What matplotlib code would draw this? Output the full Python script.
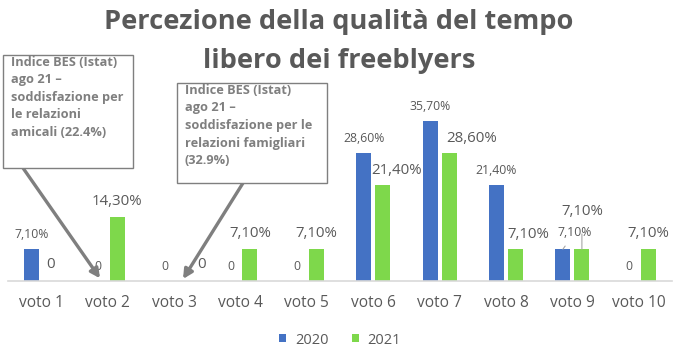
import matplotlib
matplotlib.use("Agg")
import matplotlib.pyplot as plt
from matplotlib.patches import Rectangle
import numpy as np

# ---------- Data ----------
categories = ["voto 1", "voto 2", "voto 3", "voto 4", "voto 5",
              "voto 6", "voto 7", "voto 8", "voto 9", "voto 10"]
vals_2020 = [7.1, 0, 0, 0, 0, 28.6, 35.7, 21.4, 7.1, 0]
vals_2021 = [0, 14.3, 0, 7.1, 7.1, 21.4, 28.6, 7.1, 7.1, 7.1]
series_names = ["2020", "2021"]

note_left = "Indice BES (Istat)\nago 21 \u2013\nsoddisfazione per\nle relazioni\namicali (22.4%)"
note_right = "Indice BES (Istat)\nago 21 \u2013\nsoddisfazione per le\nrelazioni famigliari\n(32.9%)"

# ---------- Style ----------
BLUE = "#4472C4"
GREEN = "#7ED84B"
GREY_TXT = "#595959"
GREY_NOTE = "#7F7F7F"
W, H = 680, 354

plt.rcParams["font.family"] = ["Open Sans", "DejaVu Sans"]


def fx(px):
    return px / W


def fy(py):
    return 1 - py / H


def fmt_label(v):
    if v == 0:
        return "0"
    return f"{v:.2f}%".replace(".", ",")


# label tweaks (pixel offsets: dx, dy above bar top), like Excel's dragged labels
off_2020 = {8: (12, 17)}
off_2021 = {2: (18, 16), 5: (14, 15), 6: (23, 15), 7: (13, 15), 8: (0, 38)}
leader_2020 = {8}
leader_2021 = {8}

fig = plt.figure(figsize=(W / 100, H / 100), dpi=100)
ax = fig.add_axes([fx(8), 73 / H, 664 / W, 179 / H])

x = np.arange(len(categories))
bw = 0.226
shift = 0.143
b1 = ax.bar(x - shift, vals_2020, bw, color=BLUE, label=series_names[0], zorder=2)
b2 = ax.bar(x + shift, vals_2021, bw, color=GREEN, label=series_names[1], zorder=2)

ax.set_xlim(-0.5, len(categories) - 0.5)
ax.set_ylim(0, 40)
ax.set_yticks([])
for s in ["top", "right", "left"]:
    ax.spines[s].set_visible(False)
ax.spines["bottom"].set_color("#D9D9D9")
ax.spines["bottom"].set_linewidth(1.2)
ax.set_xticks(x)
ax.set_xticklabels(categories, fontsize=11.2, color=GREY_TXT)
ax.tick_params(axis="x", length=0, pad=10)

# --- data labels ---
for i, (v, bar) in enumerate(zip(vals_2020, b1)):
    dx, dy = off_2020.get(i, (0, 15))
    cx = bar.get_x() + bar.get_width() / 2
    kw = {}
    if i in leader_2020:
        kw["arrowprops"] = dict(arrowstyle="-", color="#A6A6A6", lw=0.8,
                                shrinkA=4, shrinkB=0)
    ax.annotate(fmt_label(v), xy=(cx, v), xytext=(dx, dy), textcoords="offset pixels",
                ha="center", va="center", fontsize=8.8, color=GREY_TXT, **kw)

for i, (v, bar) in enumerate(zip(vals_2021, b2)):
    dx, dy = off_2021.get(i, (0, 16))
    cx = bar.get_x() + bar.get_width() / 2
    kw = {}
    if i in leader_2021:
        kw["arrowprops"] = dict(arrowstyle="-", color="#A6A6A6", lw=0.8,
                                shrinkA=9, shrinkB=0)
    ax.annotate(fmt_label(v), xy=(cx, v), xytext=(dx, dy), textcoords="offset pixels",
                ha="center", va="center", fontsize=10.8, color=GREY_TXT, **kw)

# --- title ---
fig.text(fx(339), fy(22), "Percezione della qualità del tempo", ha="center", va="center",
         fontsize=19.6, fontweight="bold", color=GREY_TXT)
fig.text(fx(339), fy(61), "libero dei freeblyers", ha="center", va="center",
         fontsize=19.6, fontweight="bold", color=GREY_TXT)

# --- note boxes + arrows ---
for (x0, y0, x1, y1), txt in [((3, 55, 133, 168), note_left),
                              ((177, 83, 327, 183), note_right)]:
    fig.add_artist(Rectangle((fx(x0), fy(y1)), fx(x1 - x0), (y1 - y0) / H,
                             transform=fig.transFigure, facecolor="white",
                             edgecolor=GREY_NOTE, lw=1, zorder=3))
    fig.text(fx(x0 + 8), fy(y0 + 1), txt, ha="left", va="top", fontsize=9.2,
             fontweight="bold", color=GREY_NOTE, linespacing=1.45, zorder=4)

arrow_kw = dict(arrowstyle="-|>,head_length=0.55,head_width=0.28", color=GREY_NOTE,
                lw=2.4, shrinkA=0, shrinkB=0)
ax.annotate("", xy=(0.886, 0.6), xytext=(fx(23), fy(168)), textcoords="figure fraction",
            arrowprops=arrow_kw, zorder=5, annotation_clip=False)
ax.annotate("", xy=(2.136, 0.45), xytext=(fx(243), fy(183)), textcoords="figure fraction",
            arrowprops=arrow_kw, zorder=5, annotation_clip=False)

# --- legend ---
fig.legend(handles=[b1, b2], labels=series_names, loc="center", bbox_to_anchor=(fx(340), fy(340)),
           ncol=2, frameon=False, fontsize=10.5, labelcolor=GREY_TXT, handlelength=0.5,
           handleheight=0.5, handletextpad=0.6, columnspacing=1.6)

fig.savefig("out.png", dpi=100)
